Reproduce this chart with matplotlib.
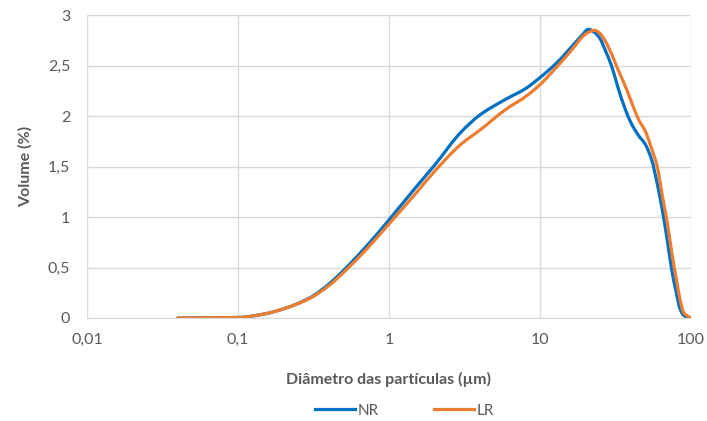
import numpy as np
import matplotlib.pyplot as plt
from matplotlib.path import Path
from matplotlib.patches import PathPatch
from matplotlib.lines import Line2D
from matplotlib.ticker import FixedLocator, FuncFormatter

# particle size distribution, volume % per size class
diam = [0.04, 0.1, 0.15, 0.2, 0.3, 0.4, 0.5, 0.7, 1.0, 1.5,
        2.0, 3.0, 4.0, 6.0, 8.0, 10, 13, 17, 19, 21,
        23, 25, 27, 30, 33, 37, 40, 45, 50, 55,
        60, 65, 70, 75, 80, 85, 90, 100]
nr = [0, 0.005, 0.04, 0.09, 0.20, 0.335, 0.47, 0.70, 0.97, 1.29,
      1.51, 1.84, 2.01, 2.17, 2.27, 2.38, 2.53, 2.72, 2.80, 2.86,
      2.83, 2.77, 2.66, 2.49, 2.28, 2.06, 1.94, 1.81, 1.72, 1.57,
      1.33, 1.06, 0.765, 0.47, 0.26, 0.09, 0.025, 0]
lr = [0, 0.005, 0.04, 0.09, 0.195, 0.32, 0.45, 0.67, 0.93, 1.23,
      1.45, 1.72, 1.86, 2.07, 2.19, 2.31, 2.49, 2.69, 2.78, 2.83,
      2.85, 2.82, 2.75, 2.61, 2.46, 2.29, 2.16, 1.97, 1.85, 1.68,
      1.50, 1.20, 0.94, 0.64, 0.40, 0.18, 0.05, 0]

xticks = [0.01, 0.1, 1, 10, 100]
yticks = [0, 0.5, 1, 1.5, 2, 2.5, 3]


def smooth_path(x, y):
    # smoothed line through the points (monotone cubic, drawn as bezier in log x)
    lx = np.log10(x)
    y = np.asarray(y, float)
    h = np.diff(lx)
    d = np.diff(y) / h
    m = np.zeros_like(y)
    m[0], m[-1] = d[0], d[-1]
    for i in range(1, len(y) - 1):
        if d[i - 1] * d[i] > 0:
            w1 = 2 * h[i] + h[i - 1]
            w2 = h[i] + 2 * h[i - 1]
            m[i] = (w1 + w2) / (w1 / d[i - 1] + w2 / d[i])
    verts = [(x[0], y[0])]
    codes = [Path.MOVETO]
    for i in range(len(y) - 1):
        c1 = (10 ** (lx[i] + h[i] / 3), y[i] + m[i] * h[i] / 3)
        c2 = (10 ** (lx[i + 1] - h[i] / 3), y[i + 1] - m[i + 1] * h[i] / 3)
        verts += [c1, c2, (x[i + 1], y[i + 1])]
        codes += [Path.CURVE4] * 3
    return Path(verts, codes)


plt.rcParams['font.family'] = ['Lato', 'DejaVu Sans']
grey = '#595959'
blue, orange = '#0070C0', '#ED7D31'

fig = plt.figure(figsize=(7.07, 4.21), dpi=100)
ax = fig.add_axes([0.123, 0.2447, 0.854, 0.7193])

for ys, col in [(nr, blue), (lr, orange)]:
    ax.add_patch(PathPatch(smooth_path(diam, ys), fill=False, edgecolor=col, lw=2.3,
                           capstyle='round', joinstyle='round'))

ax.set_xscale('log')
ax.set_xlim(0.01, 100)
ax.set_ylim(0, 3)
ax.xaxis.set_major_locator(FixedLocator(xticks))
ax.xaxis.set_minor_locator(FixedLocator([]))
ax.yaxis.set_major_locator(FixedLocator(yticks))

comma = FuncFormatter(lambda v, p: ('%g' % v).replace('.', ','))
ax.xaxis.set_major_formatter(comma)
ax.yaxis.set_major_formatter(comma)

ax.grid(True, color='#d9d9d9', lw=1)
ax.set_axisbelow(True)
for s in ['top', 'right', 'left']:
    ax.spines[s].set_visible(False)
ax.spines['bottom'].set_color('#d9d9d9')
ax.tick_params(axis='x', length=0, colors=grey, labelsize=11.5, pad=11)
ax.tick_params(axis='y', length=0, colors=grey, labelsize=11.5, pad=12)

ax.set_xlabel('Diâmetro das partículas (µm)', fontsize=11.5, fontweight='bold',
              color=grey, labelpad=18)
ax.set_ylabel('Volume (%)', fontsize=11.5, fontweight='bold', color=grey, labelpad=11)

handles = [Line2D([], [], color=blue, lw=2.3), Line2D([], [], color=orange, lw=2.3)]
fig.legend(handles, ['NR', 'LR'], loc='lower center', bbox_to_anchor=(0.572, -0.025),
           ncol=2, frameon=False, fontsize=11, handlelength=2.6, columnspacing=3.6,
           labelcolor=grey, handletextpad=0.2)

fig.savefig('out.png', dpi=100)
